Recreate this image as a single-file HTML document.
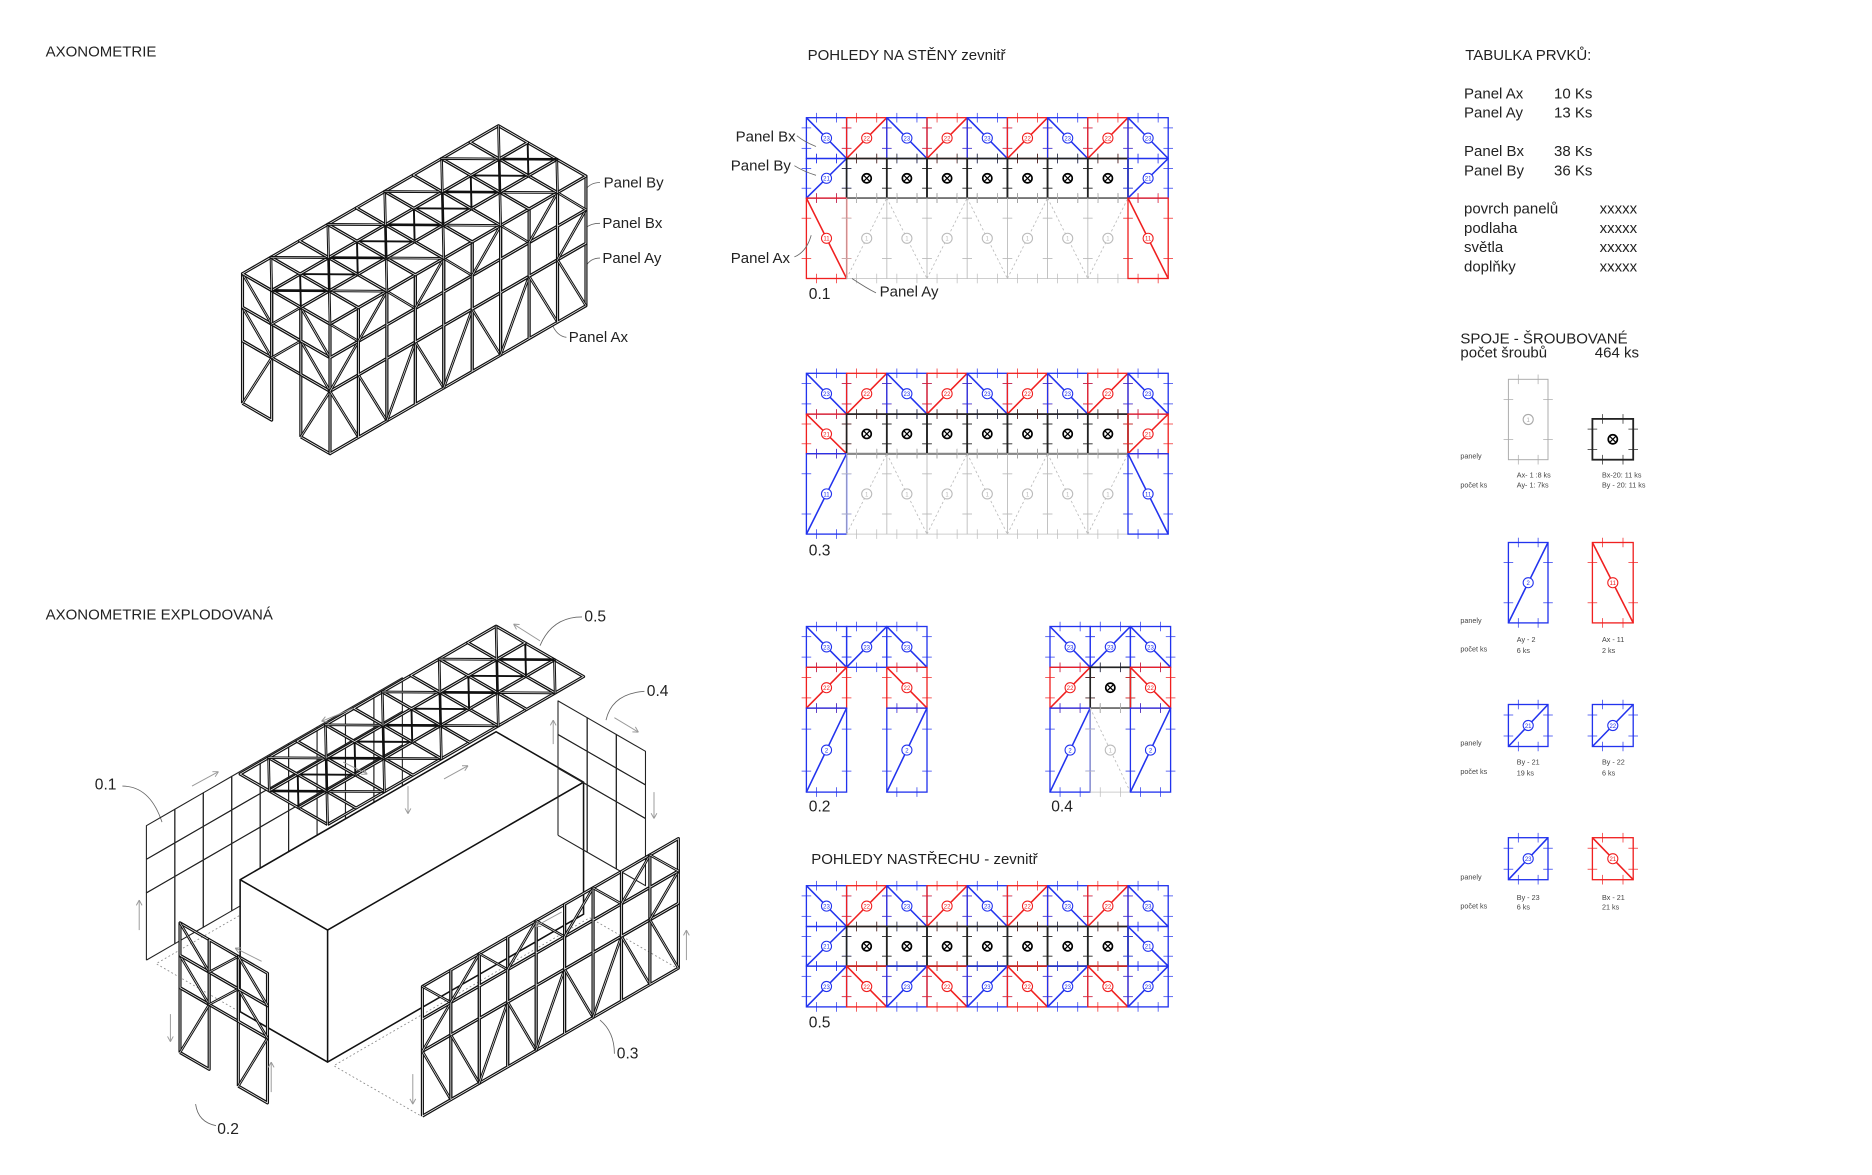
<!DOCTYPE html>
<html><head><meta charset="utf-8"><style>
html,body{margin:0;padding:0;background:#fff;}
svg{display:block;font-family:"Liberation Sans",sans-serif;}
</style></head><body>
<svg id="s" width="1872" height="1175" viewBox="0 0 1560 979" xmlns="http://www.w3.org/2000/svg">
<rect width="1560" height="979" fill="#fff"/>
<g font-size="12.5" fill="#222">
<text x="38" y="47">AXONOMETRIE</text>
<text x="38" y="516">AXONOMETRIE EXPLODOVANÁ</text>
<text x="673" y="50">POHLEDY NA STĚNY zevnitř</text>
<text x="676" y="720">POHLEDY NASTŘECHU  - zevnitř</text>
<text x="1221" y="50">TABULKA PRVKŮ:</text>
<text x="1220" y="82">Panel Ax</text><text x="1295" y="82">10 Ks</text>
<text x="1220" y="98">Panel Ay</text><text x="1295" y="98">13 Ks</text>
<text x="1220" y="130">Panel Bx</text><text x="1295" y="130">38 Ks</text>
<text x="1220" y="146">Panel By</text><text x="1295" y="146">36 Ks</text>
<text x="1220" y="178">povrch panelů</text><text x="1333" y="178">xxxxx</text>
<text x="1220" y="194">podlaha</text><text x="1333" y="194">xxxxx</text>
<text x="1220" y="210">světla</text><text x="1333" y="210">xxxxx</text>
<text x="1220" y="226">doplňky</text><text x="1333" y="226">xxxxx</text>
<text x="1217" y="286">SPOJE - ŠROUBOVANÉ</text>
<text x="1217" y="298">počet šroubů</text><text x="1329" y="298">464 ks</text>
<text x="503" y="156">Panel By</text>
<text x="502" y="190">Panel Bx</text>
<text x="502" y="219">Panel Ay</text>
<text x="474" y="285">Panel Ax</text>
<text x="613" y="118">Panel Bx</text>
<text x="609" y="142">Panel By</text>
<text x="609" y="219">Panel Ax</text>
<text x="733" y="247">Panel Ay</text>
<text x="674" y="249" font-size="13">0.1</text>
<text x="674" y="463" font-size="13">0.3</text>
<text x="674" y="676" font-size="13">0.2</text>
<text x="876" y="676" font-size="13">0.4</text>
<text x="674" y="856" font-size="13">0.5</text>
<text x="79" y="658" font-size="13">0.1</text>
<text x="487" y="518" font-size="13">0.5</text>
<text x="539" y="580" font-size="13">0.4</text>
<text x="514" y="882" font-size="13">0.3</text>
<text x="181" y="945" font-size="13">0.2</text>
</g>
<g font-size="6" fill="#444">
<text x="1217" y="382">panely</text><text x="1217" y="406">počet ks</text>
<text x="1264" y="398">Ax- 1 :8 ks</text><text x="1264" y="406">Ay- 1: 7ks</text>
<text x="1335" y="398">Bx-20: 11 ks</text><text x="1335" y="406">By - 20: 11 ks</text>
<text x="1217" y="519">panely</text><text x="1217" y="543">počet ks</text>
<text x="1264" y="535">Ay - 2</text><text x="1264" y="544">6 ks</text>
<text x="1335" y="535">Ax - 11</text><text x="1335" y="544">2 ks</text>
<text x="1217" y="621">panely</text><text x="1217" y="645">počet ks</text>
<text x="1264" y="637">By - 21</text><text x="1264" y="646">19 ks</text>
<text x="1335" y="637">By - 22</text><text x="1335" y="646">6 ks</text>
<text x="1217" y="733">panely</text><text x="1217" y="757">počet ks</text>
<text x="1264" y="750">By - 23</text><text x="1264" y="758">6 ks</text>
<text x="1335" y="750">Bx - 21</text><text x="1335" y="758">21 ks</text>
</g>
<g id="g"></g>
</svg>
<script>
var o='';
var B='#2233ee',R='#f02020',K='#222',G='#999';
function L(a,b,c,d,s,w,da){o+='<line x1="'+a+'" y1="'+b+'" x2="'+c+'" y2="'+d+'" stroke="'+s+'" stroke-width="'+(w||1)+'"'+(da?' stroke-dasharray="'+da+'"':'')+'/>';}
function T(x,y,t,s,fs){o+='<text x="'+x+'" y="'+y+'" font-size="'+(fs||5)+'" fill="'+s+'" text-anchor="middle">'+t+'</text>';}
function C(x,y,r,s,t){o+='<circle cx="'+x+'" cy="'+y+'" r="'+r+'" fill="#fff" stroke="'+s+'" stroke-width="0.9"/>';if(t)T(x,y+2,t,s,5);}
function cell(x,y,w,h,col,d,lab,wd,dash){
 o+='<rect x="'+x+'" y="'+y+'" width="'+w+'" height="'+h+'" fill="none" stroke="'+col+'" stroke-width="'+(wd||1.1)+'"/>';
 var t=[.25,.75];t.forEach(function(f){L(x+w*f,y-4,x+w*f,y+4,col,.6);L(x+w*f,y+h-4,x+w*f,y+h+4,col,.6);L(x-4,y+h*f,x+4,y+h*f,col,.6);L(x+w-4,y+h*f,x+w+4,y+h*f,col,.6);});
 if(d=='\\')L(x,y,x+w,y+h,col,dash?0.7:1.3,dash);
 if(d=='/')L(x,y+h,x+w,y,col,dash?0.7:1.3,dash);
 if(lab)C(x+w/2,y+h/2,4.2,col,lab);
}
function X(x,y){o+='<circle cx="'+x+'" cy="'+y+'" r="3.8" fill="#fff" stroke="#000" stroke-width="1.4"/>';L(x-2.4,y-2.4,x+2.4,y+2.4,'#000',1);L(x-2.4,y+2.4,x+2.4,y-2.4,'#000',1);}
var W=33.5;
function zig(x0,y0,h,inv){for(var c=0;c<9;c++){var col=c%2?R:B;var d=(c%2==0)!=!!inv?'\\':'/';cell(x0+c*W,y0,W,h,col,d,c%2?'22':'23');}}
function mid(x0,y0,h,le,ld,re,rd){cell(x0,y0,W,h,le,ld,'21');for(var c=1;c<8;c++){cell(x0+c*W,y0,W,h,K,null,null,1.4);}cell(x0+8*W,y0,W,h,re,rd,'21');
 for(var c=1;c<8;c++){X(x0+c*W+W/2,y0+h/2);}}
function low(x0,y0,h,lc,ld,rc,rd){cell(x0,y0,W,h,lc,ld,'11');for(var c=1;c<8;c++){cell(x0+c*W,y0,W,h,'#bbb',c%2?'/':'\\','1',.6,'2,2');}cell(x0+8*W,y0,W,h,rc,rd,'11');}
zig(672,98,34);mid(672,132,33,B,'/',B,'/');low(672,165,67,R,'\\',R,'\\');
zig(672,311,34);mid(672,345,33,R,'\\',R,'/');low(672,378,67,B,'/',B,'\\');
zig(672,738,34);mid(672,772,33,B,'/',B,'\\');zig(672,805,34,1);
cell(672,522,W,34,B,'\\','23');cell(672+W,522,W,34,B,'/','23');cell(672+2*W,522,W,34,B,'\\','23');
cell(672,556,W,34,R,'/','22');cell(672+2*W,556,W,34,R,'\\','22');
cell(672,590,W,70,B,'/','2');cell(672+2*W,590,W,70,B,'/','2');
var x4=875;
cell(x4,522,W,34,B,'\\','23');cell(x4+W,522,W,34,B,'/','23');cell(x4+2*W,522,W,34,B,'\\','23');
cell(x4,556,W,34,R,'/','22');cell(x4+W,556,W,34,K,null,null,1.4);X(x4+W*1.5,573);cell(x4+2*W,556,W,34,R,'\\','22');
cell(x4,590,W,70,B,'/','2');cell(x4+W,590,W,70,'#bbb','\\','1',.6,'2,2');cell(x4+2*W,590,W,70,B,'/','2');
cell(1257,316,33,67,'#aaa',null,'1',.8);cell(1327,349,34,34,K,null,null,1.5);X(1344,366);
cell(1257,452,33,67,B,'/','2');cell(1327,452,34,67,R,'\\','11');
cell(1257,587,33,35,B,'/','21');cell(1327,587,34,35,B,'/','22');
cell(1257,698,33,35,B,'/','23');cell(1327,698,34,35,R,'\\','21');
function Q(a,b,c,d,e,f){o+='<path d="M'+a+' '+b+' Q'+c+' '+d+' '+e+' '+f+'" fill="none" stroke="#666" stroke-width=".7"/>';}
Q(664,113,670,118,680,122);Q(662,138,670,143,680,146);Q(662,214,672,210,676,196);Q(730,244,722,240,710,232);
Q(500,152,492,152,488,158);Q(500,186,492,186,488,190);Q(500,215,492,215,488,222);Q(472,281,464,280,460,270);
Q(485,514,460,514,450,538);Q(537,576,510,578,505,600);Q(512,878,512,860,500,850);Q(180,938,165,935,163,920);Q(102,655,125,655,135,685);
var U=[23.7,-13.7],V=[-24.3,-14];
function P(o2,a,b,h){return [o2[0]+a*U[0]+b*V[0],o2[1]+a*U[1]+b*V[1]-h];}
function pl(pts,s,w,da){o+='<polyline points="'+pts.map(function(p){return p[0].toFixed(1)+','+p[1].toFixed(1)}).join(' ')+'" fill="none" stroke="'+s+'" stroke-width="'+w+'"'+(da?' stroke-dasharray="'+da+'"':'')+' stroke-linejoin="round"/>';}
function seg(p,q,s,w,da){pl([p,q],s,w,da);}
function fpan(p1,p2,p3,p4,d,thick){
 var w=thick?2.6:0.9;pl([p1,p2,p3,p4,p1],thick?'#111':'#222',w);
 if(thick){pl([p1,p2,p3,p4,p1],'#fff',0.6);}
 if(d=='/'){seg(p1,p3,'#111',thick?2.2:.9);if(thick)seg(p1,p3,'#fff',.5);}
 if(d=='\\'){seg(p4,p2,'#111',thick?2.2:.9);if(thick)seg(p4,p2,'#fff',.5);}
}
function wall(org,d,n,hs,pat,thick,skip){
 for(var i=0;i<n;i++)for(var r=0;r<hs.length-1;r++){
  if(skip&&skip(i,r))continue;
  var b=function(k,h){return [org[0]+k*d[0],org[1]+k*d[1]-h];};
  fpan(b(i,hs[r]),b(i+1,hs[r]),b(i+1,hs[r+1]),b(i,hs[r+1]),pat?pat(i,r):null,thick);
 }
}
function roof(org,thick){
 for(var a=0;a<9;a++)for(var b=0;b<3;b++){
  var p1=P(org,a,b,0),p2=P(org,a+1,b,0),p3=P(org,a+1,b+1,0),p4=P(org,a,b+1,0);
  fpan(p1,p2,p3,p4,(a+b)%2?'\\':'/',thick);
  if(b==1){seg(p1,p3,'#111',1.6);seg(p4,p2,'#111',1.6);}
 }
}
var pat=function(i,r){if(r==2)return i%2?'/':'\\';if(r==1)return (i==0||i==8)?'/':null;return i==0||i==8?'\\':(i%2?'\\':'/');};
var F=[275,378];
var sideB=[F[0]+3*V[0],F[1]+3*V[1]];
wall(sideB,[-V[0],-V[1]],3,[0,52,80,108],function(i,r){return r==0?(i==1?'\\':'/'):(i%2?'/':'\\');},true,function(i,r){return i==1&&r==0;});
wall(F,U,9,[0,52,80,108],pat,true);
roof(P(F,0,0,108),true);
var F2=[273,885];
var fp=[P(F2,0,0,0),P(F2,9,0,0),P(F2,9,3,0),P(F2,0,3,0),P(F2,0,0,0)];
pl(fp.map(function(p){return [p[0]+78,p[1]+45]}),'#888',.7,'1.5,2');
pl(fp.map(function(p){return [p[0]-70,p[1]-40]}),'#888',.7,'1.5,2');
wall([122,800],U,9,[0,56,84,112],null,false);
var t0=P(F2,0,0,110),t1=P(F2,9,0,110),t2=P(F2,9,3,110),t3=P(F2,0,3,110);
o+='<polygon points="'+[P(F2,0,0,0),P(F2,9,0,0),t1,t2,t3,P(F2,0,3,0)].map(function(p){return p.join(',')}).join(' ')+'" fill="#fff" stroke="#111" stroke-width="1.3"/>';
pl([t3,t0,t1],'#111',1.3);seg(t0,P(F2,0,0,0),'#111',1.3);
roof(P(F2,0,0,198),true);
wall([465,696],[-V[0],-V[1]],3,[0,56,84,112],null,false);
var s2=[150,877];
wall(s2,[-V[0],-V[1]],3,[0,54,81,108],function(i,r){return r==0?'/':(i%2?'/':'\\');},true,function(i,r){return i==1&&r==0;});
wall([352,930],U,9,[0,54,81,108],pat,true);
function A(x1,y1,x2,y2){L(x1,y1,x2,y2,'#999',.8);var a=Math.atan2(y2-y1,x2-x1);L(x2,y2,x2-5*Math.cos(a-.5),y2-5*Math.sin(a-.5),'#999',.8);L(x2,y2,x2-5*Math.cos(a+.5),y2-5*Math.sin(a+.5),'#999',.8);}
A(450,534,428,520);A(295,590,268,601);A(160,655,182,643);A(218,801,196,790);A(512,598,532,610);A(370,649,390,638);A(461,620,461,600);A(545,660,545,682);
A(340,655,340,678);A(116,775,116,750);A(142,845,142,868);A(226,910,226,885);A(572,800,572,775);A(344,895,344,920);A(468,760,446,772);A(286,635,306,645);
document.getElementById('g').innerHTML=o;
</script>
</body></html>
